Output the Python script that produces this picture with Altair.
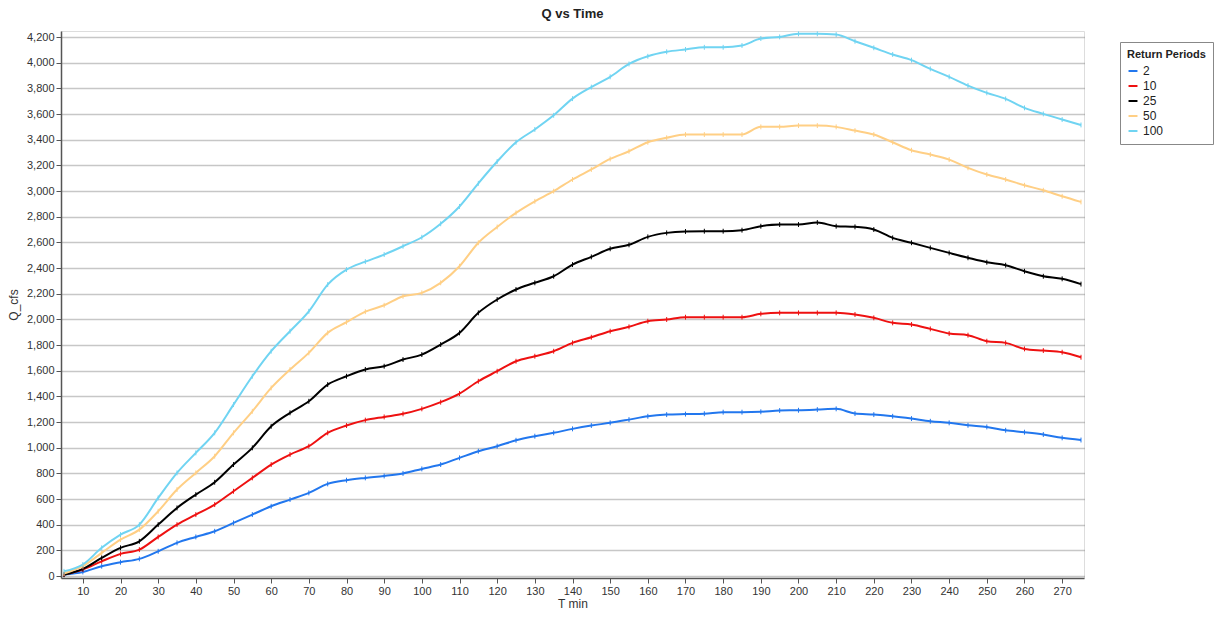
import altair as alt
import pandas as pd

times = [5, 10, 15, 20, 25, 30, 35, 40, 45, 50, 55, 60, 65, 70, 75, 80, 85, 90, 95, 100,
         105, 110, 115, 120, 125, 130, 135, 140, 145, 150, 155, 160, 165, 170, 175, 180,
         185, 190, 195, 200, 205, 210, 215, 220, 225, 230, 235, 240, 245, 250, 255, 260,
         265, 270, 275]

q2 = [12, 32, 77, 108, 134, 193, 259, 305, 349, 414, 479, 544, 596, 648, 718, 747, 765, 780,
      800, 835, 869, 921, 973, 1012, 1058, 1090, 1116, 1147, 1173, 1194, 1219, 1245, 1258,
      1262, 1265, 1277, 1277, 1280, 1290, 1292, 1297, 1303, 1266, 1258, 1245, 1227, 1206,
      1194, 1175, 1162, 1136, 1121, 1103, 1077, 1060]

q10 = [12, 51, 115, 173, 206, 305, 401, 479, 557, 661, 765, 869, 947, 1012, 1116, 1173, 1215,
       1240, 1264, 1303, 1355, 1422, 1518, 1596, 1674, 1713, 1752, 1817, 1861, 1908, 1942,
       1986, 1999, 2017, 2017, 2017, 2017, 2043, 2051, 2051, 2051, 2051, 2038, 2012, 1973,
       1960, 1926, 1890, 1877, 1830, 1817, 1770, 1757, 1744, 1705]

q25 = [10, 56, 142, 220, 271, 401, 531, 635, 731, 869, 999, 1167, 1272, 1362, 1492, 1557,
       1610, 1635, 1687, 1726, 1804, 1895, 2051, 2155, 2233, 2285, 2336, 2427, 2487, 2550,
       2581, 2643, 2674, 2685, 2687, 2687, 2695, 2726, 2739, 2739, 2755, 2726, 2721, 2700,
       2635, 2597, 2557, 2518, 2480, 2445, 2422, 2375, 2336, 2316, 2275]

q50 = [20, 77, 181, 284, 362, 505, 674, 804, 934, 1116, 1284, 1466, 1609, 1739, 1895, 1978,
       2060, 2110, 2180, 2207, 2285, 2414, 2597, 2720, 2830, 2920, 2999, 3090, 3168, 3250,
       3310, 3380, 3415, 3440, 3440, 3440, 3440, 3500, 3500, 3510, 3510, 3500, 3471, 3440,
       3380, 3318, 3284, 3245, 3181, 3129, 3090, 3045, 3006, 2959, 2915]

q100 = [37, 90, 220, 323, 401, 609, 804, 960, 1116, 1336, 1557, 1752, 1908, 2063, 2271, 2388,
        2450, 2505, 2570, 2640, 2745, 2880, 3060, 3230, 3380, 3480, 3590, 3720, 3810, 3890,
        3990, 4050, 4085, 4103, 4120, 4120, 4134, 4188, 4201, 4225, 4225, 4219, 4167, 4116,
        4064, 4020, 3952, 3890, 3822, 3765, 3718, 3648, 3601, 3557, 3515]

periods = ["2", "10", "25", "50", "100"]
colors = ["#2277ee", "#ee1111", "#000000", "#ffcf85", "#70d4f2"]
series = [q2, q10, q25, q50, q100]

rows = []
for p, vals in zip(periods, series):
    for t, v in zip(times, vals):
        rows.append({"T": t, "Q": v, "period": p})
df = pd.DataFrame(rows)

x_ticks = list(range(10, 271, 10))
y_ticks = list(range(0, 4201, 200))

color = alt.Color(
    "period:N",
    scale=alt.Scale(domain=periods, range=colors),
    legend=alt.Legend(
        title="Return Periods",
        orient="none",
        legendX=1059,
        legendY=11,
        symbolType="stroke",
        symbolStrokeWidth=2,
        symbolSize=80,
        titleFontSize=11,
        labelFontSize=12,
        titleFont="Liberation Sans",
        labelFont="Liberation Sans",
        titleFontWeight="bold",
        titleColor="#222222",
        labelColor="#222222",
        strokeColor="#888888",
        padding=7,
        fillColor="white",
        rowPadding=3,
    ),
)

x = alt.X(
    "T:Q",
    scale=alt.Scale(domain=[4.2, 275.8], nice=False, zero=False),
    axis=alt.Axis(
        title="T  min",
        values=x_ticks,
        grid=False,
        labelFontSize=11,
        titleFontSize=12,
        titleFontWeight="normal",
        titlePadding=2,
        tickSize=5,
        domainColor="#555555",
        domainWidth=1.5,
        tickColor="#555555",
        labelColor="#333333",
        titleColor="#333333",
        labelFont="Liberation Sans",
        titleFont="Liberation Sans",
    ),
)

y = alt.Y(
    "Q:Q",
    scale=alt.Scale(domain=[-15, 4247], nice=False, zero=False),
    axis=alt.Axis(
        title="Q_cfs",
        values=y_ticks,
        format=",d",
        grid=True,
        gridColor="#8e8e8e",
        gridDash=[1, 1],
        gridWidth=1.3,
        labelFontSize=11,
        titleFontSize=12,
        titleFontWeight="normal",
        tickSize=5,
        domainColor="#555555",
        domainWidth=1.5,
        tickColor="#555555",
        labelColor="#333333",
        titleColor="#333333",
        labelFont="Liberation Sans",
        titleFont="Liberation Sans",
        titlePadding=6,
    ),
)

base = alt.Chart(df)
lines = base.mark_line(strokeWidth=2, interpolate="monotone").encode(
    x=x, y=y, color=color, order="T:Q"
)
marks = base.mark_point(shape="M0,-1L0,1", size=24, strokeWidth=1, filled=False, opacity=1).encode(
    x=x, y=y, color=alt.Color("period:N", scale=alt.Scale(domain=periods, range=colors), legend=None)
)

chart = (
    alt.layer(lines, marks)
    .properties(
        width=1023,
        height=547,
        title=alt.Title("Q vs Time", fontSize=13, fontWeight="bold", font="Liberation Sans",
                        color="#222222", anchor="middle", offset=8),
        autosize=alt.AutoSizeParams(type="none"),
        padding={"left": 61, "top": 31, "right": 138, "bottom": 41},
    )
    .configure_view(fill="#e1e1e1", stroke="#999999", strokeWidth=1)
    .configure(background="white")
)

chart.save("out.html", embed_options={"renderer": "svg", "actions": False})
